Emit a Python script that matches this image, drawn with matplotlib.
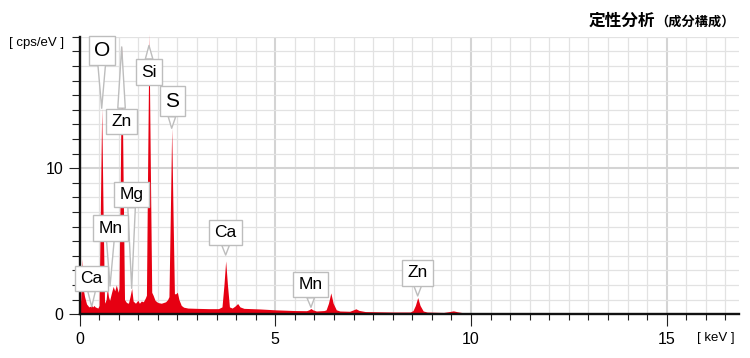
import matplotlib
matplotlib.use("Agg")
import matplotlib.pyplot as plt
from matplotlib.ticker import MultipleLocator

# --- spectrum (keV, cps/eV) ---
energia = [
    0.00, 0.03, 0.064, 0.09, 0.13, 0.18, 0.24, 0.28, 0.31, 0.34, 0.37, 0.40, 0.47,
    0.50, 0.532, 0.567, 0.602, 0.64,
    0.68, 0.71, 0.74, 0.77, 0.82, 0.86, 0.90, 0.94, 0.99,
    1.01, 1.043, 1.078, 1.113, 1.15,
    1.20, 1.25, 1.29, 1.333, 1.37, 1.43, 1.49, 1.53, 1.58, 1.63, 1.68,
    1.71, 1.74, 1.775, 1.81, 1.845, 1.88, 1.93, 2.00, 2.09, 2.20, 2.25,
    2.285, 2.32, 2.355, 2.39, 2.425, 2.46, 2.50, 2.54, 2.60, 2.66, 2.77, 3.00,
    3.30, 3.55, 3.64, 3.69, 3.734, 3.78, 3.83, 3.90, 3.97, 4.04, 4.10, 4.20,
    4.60, 5.00, 5.50, 5.80, 5.86, 5.913, 5.96, 6.05, 6.25,
    6.30, 6.36, 6.42, 6.48, 6.56, 6.65, 6.90, 6.98, 7.06, 7.14, 7.30,
    8.00, 8.45, 8.52, 8.58, 8.64, 8.70, 8.78, 8.88, 9.30, 9.45, 9.55, 9.65,
    9.80, 10.60, 11.50, 16.84,
]
cuentas = [
    0.30, 1.00, 3.80, 1.80, 1.20, 0.70, 0.50, 0.55, 0.60, 0.50, 0.60, 0.50, 0.42,
    0.60, 7.00, 14.10, 7.00, 0.75,
    1.00, 1.80, 1.20, 0.95, 1.50, 1.90, 1.60, 2.00, 1.50,
    1.80, 9.50, 18.40, 9.50, 1.00,
    0.80, 0.75, 1.20, 1.77, 0.90, 0.75, 0.95, 0.75, 0.90, 0.85, 1.10,
    1.30, 10.00, 19.20, 10.00, 1.50, 1.30, 0.95, 0.80, 0.75, 0.85, 1.00,
    1.20, 6.80, 12.73, 6.80, 1.40, 1.40, 1.50, 1.00, 0.60, 0.48, 0.42, 0.40,
    0.38, 0.38, 0.50, 2.00, 3.65, 2.00, 0.50, 0.42, 0.55, 0.73, 0.50, 0.40,
    0.36, 0.30, 0.25, 0.24, 0.30, 0.39, 0.30, 0.22, 0.25,
    0.30, 0.75, 1.46, 0.75, 0.30, 0.22, 0.20, 0.28, 0.37, 0.26, 0.18,
    0.15, 0.15, 0.25, 0.60, 1.14, 0.60, 0.22, 0.15, 0.12, 0.18, 0.23, 0.17,
    0.10, 0.06, 0.02, 0.00,
]

# etiquetas de elementos: nombre, punta (keV, cps/eV)
elementos = ["O", "Zn", "Si", "S", "Mg", "Mn", "Ca", "Ca", "Mn", "Zn"]
punta_e = [0.567, 1.078, 1.775, 2.355, 1.333, 0.78, 0.312, 3.734, 5.913, 8.639]
punta_c = [14.1, 18.3, 18.4, 12.73, 1.77, 1.93, 0.51, 4.05, 0.47, 1.25]

# posicion de cada caja (layout)
caja_e = [0.567, 1.073, 1.78, 2.37, 1.33, 0.79, 0.306, 3.73, 5.90, 8.64]
caja_c = [18.07, 13.2, 16.57, 14.58, 8.2, 5.9, 2.46, 5.61, 2.03, 2.83]
caja_tam = [15, 12.5, 12.5, 15, 12.5, 12.5, 12.5, 12.5, 12.5, 12.5]
caja_pad = [0.24, 0.3, 0.3, 0.26, 0.3, 0.3, 0.3, 0.3, 0.3, 0.3]

rojo = "#e60012"
fuente = "Liberation Sans"
plt.rcParams["font.family"] = [fuente, "DejaVu Sans"]

fig = plt.figure(figsize=(7.5, 3.58), dpi=100)
ax = fig.add_axes([79.5 / 750, 1 - 314.2 / 358, (738.7 - 79.5) / 750, (314.2 - 36.7) / 358])

ax.fill_between(energia, cuentas, 0, color=rojo, lw=0, zorder=2, clip_on=False)

ax.set_xlim(0, 16.84)
ax.set_ylim(0, 19)
ax.xaxis.set_major_locator(MultipleLocator(5))
ax.xaxis.set_minor_locator(MultipleLocator(0.5))
ax.yaxis.set_major_locator(MultipleLocator(10))
ax.yaxis.set_minor_locator(MultipleLocator(1))

ax.set_axisbelow(True)
ax.grid(which="minor", color="#e2e2e2", lw=0.9)
ax.grid(which="major", color="#d4d4d4", lw=1.5)

for lado in ["top", "right"]:
    ax.spines[lado].set_visible(False)
for lado in ["left", "bottom"]:
    ax.spines[lado].set_linewidth(1.7)
    ax.spines[lado].set_color("#111111")
    ax.spines[lado].set_zorder(3)

ax.tick_params(axis="x", which="major", direction="out", length=8.5, width=0.8,
               pad=4.5, labelsize=11.5, color="#222222")
ax.tick_params(axis="x", which="minor", direction="out", length=4.5, width=0.8, color="#222222")
ax.tick_params(axis="y", which="major", direction="out", length=8, width=0.8,
               pad=3.5, labelsize=11.5, color="#222222")
ax.tick_params(axis="y", which="minor", direction="out", length=5.5, width=0.8, color="#222222")

# cajas con cola apuntando al pico
for i in range(len(elementos)):
    ax.annotate(
        elementos[i], xy=(punta_e[i], punta_c[i]), xytext=(caja_e[i], caja_c[i]),
        ha="center", va="center", fontsize=caja_tam[i], color="black", zorder=5,
        bbox=dict(boxstyle=f"square,pad={caja_pad[i]}", fc="white", ec="#bdbdbd", lw=1),
        arrowprops=dict(arrowstyle="wedge,tail_width=0.45", mutation_scale=12,
                        fc="white", ec="#bdbdbd", lw=1, shrinkA=0, shrinkB=0),
        annotation_clip=False,
    )

fig.text(9 / 750, 1 - 43.3 / 358, "[ cps/eV ]", ha="left", va="center", fontsize=9.5)
fig.text(735 / 750, 1 - 338.3 / 358, "[ keV ]", ha="right", va="center", fontsize=9.5)

cjk = ["Noto Sans CJK JP", "DejaVu Sans"]
fig.text(589 / 750, 1 - 26 / 358, "定性分析", ha="left", va="baseline",
         fontsize=12, fontweight="bold", family=cjk)
fig.text(655 / 750, 1 - 26 / 358, "（成分構成）", ha="left", va="baseline",
         fontsize=9.5, fontweight="bold", family=cjk)

fig.savefig("out.png", dpi=100)
